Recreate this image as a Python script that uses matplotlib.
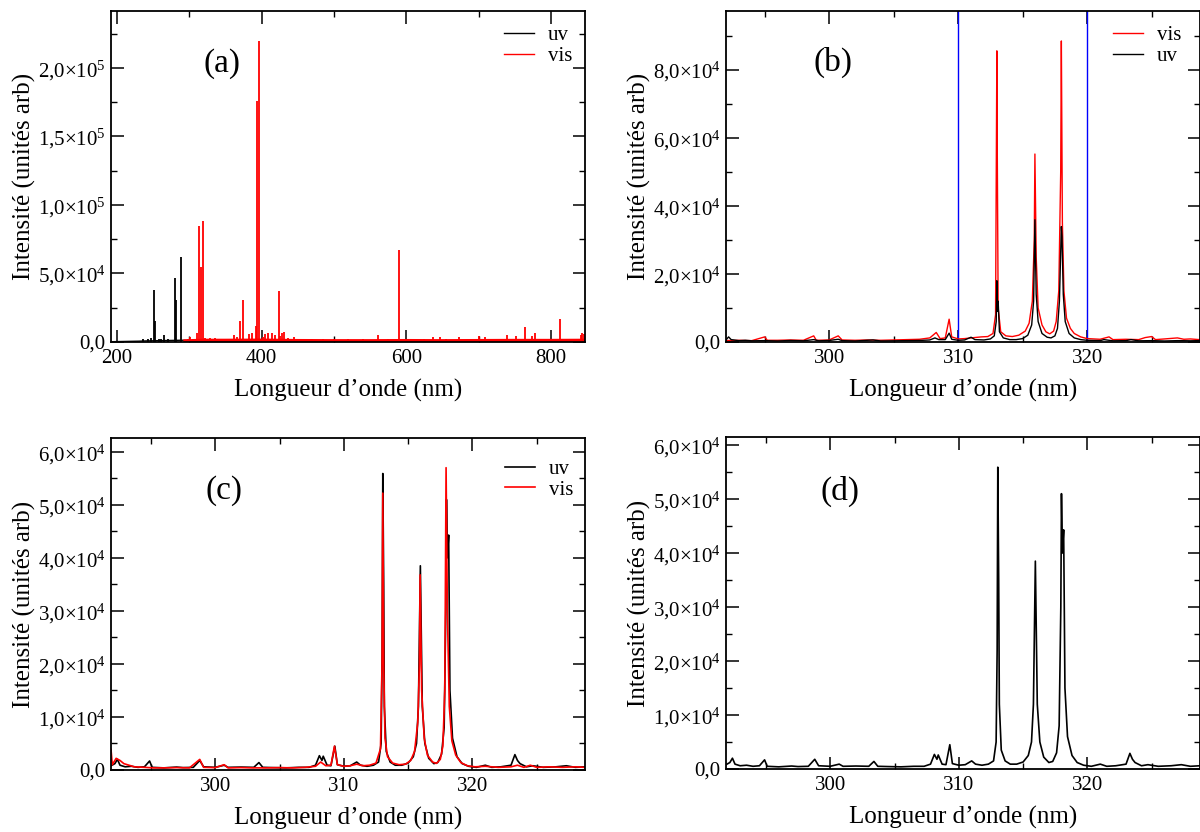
import numpy as np
import matplotlib
matplotlib.use("Agg")
import matplotlib.pyplot as plt
from matplotlib.ticker import MultipleLocator, FuncFormatter

# ---- panel (a): full spectra, baseline points + emission spikes (nm, counts)
a_uv_base_nm = [192, 200, 210, 220, 230, 240, 250, 260, 270, 280, 290, 300]
a_uv_base = [200, 300, 400, 500, 600, 800, 900, 1000, 1100, 1200, 1300, 1100]
a_uv_lines_nm = [224, 236.4, 243.3, 247, 251.8, 252.8, 258, 260.5, 265.5, 270, 280.3, 281.7, 288.6]
a_uv_lines = [1000, 2000, 2000, 3000, 38000, 15000, 2500, 2000, 5000, 2000, 47000, 31000, 62000]

a_vis_base_nm = [294, 320, 350, 400, 450, 500, 550, 600, 650, 700, 750, 800, 847]
a_vis_base = [800, 1200, 1200, 1300, 1000, 900, 900, 1000, 900, 1000, 1100, 1100, 1200]
a_vis_lines_nm = [298, 301, 305, 310.3, 313.8, 316.3, 318.5, 322, 328, 336, 344, 352, 361.9, 366,
                  370.7, 373.9, 380, 383, 386.4, 391.5, 393.4, 396.8, 402, 405, 409.4, 414,
                  418, 423.8, 426, 428.5, 430.2, 437, 445, 452, 470, 485, 500, 520, 540, 560.3,
                  575, 589.9, 610, 625, 636.9, 646, 655, 672.4, 690, 700.6, 709.3, 720, 739.4,
                  751.4, 764.7, 774, 778.5, 790, 800, 813.1, 827, 841.8, 843.4, 846]
a_vis_lines = [2500, 3600, 2500, 6300, 85000, 55000, 88000, 3000, 3000, 2900, 2500, 2500, 5000, 3500,
               15500, 31000, 2500, 6000, 6300, 12000, 176000, 220000, 4000, 5500, 6800, 6300,
               5000, 37500, 4500, 6500, 7300, 3000, 3400, 2500, 2000, 2000, 2500, 2000, 2000, 4900,
               2000, 67000, 2000, 2000, 3900, 3400, 2000, 3400, 2000, 4400, 3400, 2000, 5100,
               4400, 11200, 4400, 6300, 2000, 2500, 16500, 2400, 5100, 6300, 6000]

# ---- panel (b): raw zoom 292-329 nm
b_uv_nm = [292.0, 292.2, 292.4, 293.0, 293.5, 294.0, 295.0, 296.0, 297.0, 298.0, 298.8, 299.2,
           300.0, 300.7, 301.0, 302.0, 303.4, 304.0, 305.0, 306.0, 307.0, 307.8, 308.2, 308.5,
           309.0, 309.3, 309.5, 310.0, 310.5, 311.0, 311.3, 312.0, 312.5, 312.8, 312.95, 313.0,
           313.05, 313.1, 313.2, 313.5, 314.0, 314.5, 315.0, 315.4, 315.7, 315.85, 315.95, 316.05,
           316.2, 316.5, 316.9, 317.2, 317.5, 317.7, 317.85, 318.0, 318.05, 318.15, 318.3, 318.6,
           319.0, 319.5, 320.0, 321.0, 321.3, 322.0, 323.0, 323.4, 324.0, 325.0, 326.0, 327.0,
           328.0, 328.7]
b_uv = [600, 1500, 700, 400, 500, 350, 400, 300, 450, 350, 700, 350,
        450, 800, 400, 300, 600, 300, 350, 400, 450, 600, 1200, 700,
        700, 2600, 800, 500, 600, 1400, 700, 600, 900, 1800, 6000, 18000,
        9000, 12000, 3000, 1200, 700, 700, 1000, 2000, 5000, 12000, 35900, 14000,
        6000, 2500, 1400, 1200, 1800, 4000, 12000, 33900, 31000, 14000, 6000, 2500,
        1200, 700, 500, 400, 700, 350, 400, 700, 350, 400, 300, 400,
        350, 400]
b_vis_nm = [292.0, 293.0, 294.0, 295.0, 295.2, 296.0, 297.0, 298.0, 298.8, 299.0, 300.0, 300.7,
            301.0, 302.0, 303.0, 304.0, 305.0, 306.0, 307.0, 307.8, 308.3, 308.6, 309.0, 309.3,
            309.5, 310.0, 310.5, 311.0, 311.8, 312.3, 312.7, 312.9, 313.0, 313.03, 313.1, 313.3,
            313.7, 314.2, 314.7, 315.2, 315.5, 315.75, 315.9, 315.95, 316.05, 316.2, 316.5, 316.8,
            317.1, 317.4, 317.6, 317.8, 317.95, 318.0, 318.08, 318.2, 318.4, 318.7, 319.0, 319.5,
            320.0, 321.0, 321.7, 322.0, 323.0, 324.0, 324.5, 325.0, 325.3, 326.0, 327.0, 327.5,
            328.0, 328.7]
b_vis = [400, 500, 400, 1500, 500, 500, 600, 500, 1800, 500, 600, 1800,
         600, 500, 600, 500, 600, 700, 800, 1200, 2800, 1000, 1200, 6700,
         1500, 900, 1000, 1200, 1500, 1600, 2500, 8000, 85500, 58000, 10000, 3000,
         1800, 1600, 2000, 3200, 5500, 12000, 30000, 55200, 25000, 10000, 5000, 3000,
         2400, 3200, 6000, 15000, 50000, 88400, 35000, 15000, 7000, 4000, 2500, 1500,
         1000, 800, 1500, 700, 800, 700, 1300, 1600, 700, 900, 1200, 800,
         900, 700]

# ---- panels (c) and (d): normalised zoom
c_uv_nm = [291.9, 292.2, 292.4, 292.6, 293.0, 293.5, 294.0, 294.5, 294.9, 295.1, 296.0, 297.0,
           297.5, 298.3, 298.8, 299.1, 300.0, 300.7, 301.0, 302.0, 303.0, 303.4, 303.7, 304.5,
           305.5, 306.5, 307.3, 307.8, 308.1, 308.3, 308.4, 308.7, 309.0, 309.3, 309.5, 310.0,
           310.5, 311.0, 311.3, 311.8, 312.3, 312.7, 312.9, 312.98, 313.03, 313.1, 313.15, 313.3,
           313.6, 314.0, 314.5, 315.0, 315.4, 315.65, 315.8, 315.95, 316.1, 316.3, 316.6, 317.0,
           317.3, 317.6, 317.8, 317.93, 317.98, 318.05, 318.15, 318.25, 318.45, 318.8, 319.2, 319.7,
           320.3, 321.0, 321.5, 322.2, 323.0, 323.3, 323.5, 323.7, 324.2, 324.7, 325.5, 326.5,
           327.3, 328.0, 328.75]
c_uv = [800, 1200, 2000, 900, 600, 700, 500, 600, 1700, 500, 400, 550,
        450, 500, 1800, 600, 500, 900, 500, 550, 500, 1400, 500, 450,
        400, 500, 500, 900, 2700, 1800, 2600, 900, 800, 4500, 1000, 700,
        800, 1500, 900, 700, 900, 1500, 5000, 22000, 55900, 35000, 12000, 3500,
        1500, 900, 900, 1300, 2500, 5000, 12000, 38500, 12000, 5000, 2200, 1200,
        1400, 3000, 8000, 30000, 51000, 40000, 44300, 15000, 6000, 2500, 1200, 700,
        500, 900, 500, 600, 900, 2900, 1800, 1200, 600, 800, 500, 600,
        800, 500, 600]
c_vis_nm = [291.9, 292.0, 292.3, 292.6, 292.9, 293.3, 293.7, 294.5, 295.2, 296.0, 297.0, 298.0,
            298.8, 299.1, 300.0, 300.7, 301.0, 302.0, 303.0, 304.0, 305.0, 306.0, 307.0, 307.8,
            308.2, 308.6, 309.0, 309.27, 309.5, 310.0, 310.5, 311.0, 311.5, 312.0, 312.5, 312.85,
            312.97, 313.03, 313.1, 313.2, 313.4, 313.8, 314.3, 314.8, 315.2, 315.5, 315.75, 315.88,
            315.93, 316.05, 316.25, 316.5, 316.9, 317.2, 317.5, 317.7, 317.85, 317.95, 318.05, 318.2,
            318.4, 318.7, 319.1, 319.6, 320.2, 321.0, 322.0, 323.0, 323.5, 324.0, 324.5, 325.0,
            326.0, 327.0, 328.0, 328.75]
c_vis = [3900, 1000, 2200, 1800, 1200, 900, 600, 500, 400, 400, 450, 400,
         2000, 500, 450, 1000, 400, 450, 400, 400, 450, 400, 500, 700,
         1500, 800, 900, 4500, 1000, 700, 800, 1100, 800, 900, 1300, 4000,
         20000, 52200, 20000, 6000, 2500, 1300, 1000, 1100, 1800, 3500, 9000, 20000,
         36800, 15000, 6000, 2800, 1500, 1250, 2000, 4500, 15000, 57000, 30000, 12000,
         5500, 2800, 1400, 800, 600, 700, 500, 600, 900, 500, 900, 500,
         600, 500, 600, 500]

panel_tags = ["(a)", "(b)", "(c)", "(d)"]

SERIF = "Liberation Serif"
plt.rcParams.update({
    "font.family": SERIF,
    "mathtext.fontset": "custom",
    "mathtext.rm": SERIF,
    "mathtext.it": SERIF + ":italic",
    "axes.linewidth": 1.3,
    "xtick.direction": "in",
    "ytick.direction": "in",
    "xtick.top": True,
    "ytick.right": True,
    "xtick.major.size": 9,
    "ytick.major.size": 9,
    "xtick.minor.size": 4.5,
    "ytick.minor.size": 4.5,
    "xtick.major.width": 1.1,
    "ytick.major.width": 1.1,
    "xtick.minor.width": 1.0,
    "ytick.minor.width": 1.0,
    "xtick.major.pad": 5,
    "ytick.major.pad": 4,
})


def sci_fmt(v, pos):
    if v == 0:
        return "0,0"
    e = int(np.floor(np.log10(abs(v)) + 1e-9))
    m = v / 10 ** e
    return ("%.1f" % m).replace(".", ",") + "\u00d710$^{%d}$" % e


def style(ax, xmaj, xmin, ymaj, ymin, tag, tagpos):
    ax.xaxis.set_major_locator(MultipleLocator(xmaj))
    ax.xaxis.set_minor_locator(MultipleLocator(xmin))
    ax.yaxis.set_major_locator(MultipleLocator(ymaj))
    ax.yaxis.set_minor_locator(MultipleLocator(ymin))
    ax.yaxis.set_major_formatter(FuncFormatter(sci_fmt))
    ax.tick_params(labelsize=15)
    ax.set_xlabel("Longueur d\u2019onde (nm)", fontsize=18, labelpad=8)
    ax.set_ylabel("Intensit\u00e9 (unit\u00e9s arb)", fontsize=18, labelpad=1)
    ax.text(tagpos[0], tagpos[1], tag, transform=ax.transAxes, fontsize=24,
            ha="center", va="center")


def legend(ax, x0, y0):
    ax.legend(loc="upper left", bbox_to_anchor=(x0, y0), frameon=False, fontsize=15,
              borderpad=0, borderaxespad=0, handlelength=1.45, handletextpad=0.65,
              labelspacing=0.05)


W = 12.0
H = 8.32
fig = plt.figure(figsize=(W, H), dpi=100)
aw = 474 / 1200
ah = 331 / 832
axa = fig.add_axes([111 / 1200, (832 - 342) / 832, aw, ah])
axb = fig.add_axes([726 / 1200, (832 - 342) / 832, aw, ah])
axc = fig.add_axes([111 / 1200, (832 - 770) / 832, aw, 332 / 832])
axd = fig.add_axes([726 / 1200, (832 - 769) / 832, aw, 332 / 832])

# (a)
axa.plot(a_uv_base_nm, a_uv_base, color="black", lw=1.0, label="uv")
axa.vlines(a_uv_lines_nm, 0, a_uv_lines, color="black", lw=1.3)
axa.plot(a_vis_base_nm, a_vis_base, color="red", lw=2.4, label="vis")
axa.vlines(a_vis_lines_nm, 0, a_vis_lines, color="red", lw=1.3)
axa.set_xlim(191.7, 847)
axa.set_ylim(0, 2.416e5)
style(axa, 200, 100, 5e4, 2.5e4, panel_tags[0], (0.234, 0.84))
leg = legend(axa, 0.829, 0.955)
for line in axa.get_legend().get_lines():
    line.set_linewidth(1.0)

# (b)
axb.axvline(310, color="blue", lw=1.0)
axb.axvline(320, color="blue", lw=1.0)
axb.plot(b_vis_nm, b_vis, color="red", lw=1.0, label="vis")
axb.plot(b_uv_nm, b_uv, color="black", lw=1.0, label="uv")
axb.set_xlim(292.0, 328.75)
axb.set_ylim(0, 9.72e4)
style(axb, 10, 5, 2e4, 1e4, panel_tags[1], (0.226, 0.846))
legend(axb, 0.817, 0.955)

# (c)
axc.plot(c_uv_nm, c_uv, color="black", lw=1.2, label="uv")
axc.plot(c_vis_nm, c_vis, color="red", lw=1.2, label="vis")
axc.set_xlim(291.9, 328.75)
axc.set_ylim(0, 6.26e4)
style(axc, 10, 5, 1e4, 5e3, panel_tags[2], (0.238, 0.843))
legend(axc, 0.831, 0.935)

# (d)
axd.plot(c_uv_nm, c_uv, color="black", lw=1.2)
axd.set_xlim(291.9, 328.75)
axd.set_ylim(0, 6.15e4)
style(axd, 10, 5, 1e4, 5e3, panel_tags[3], (0.24, 0.835))

fig.savefig("out.png", dpi=100)
